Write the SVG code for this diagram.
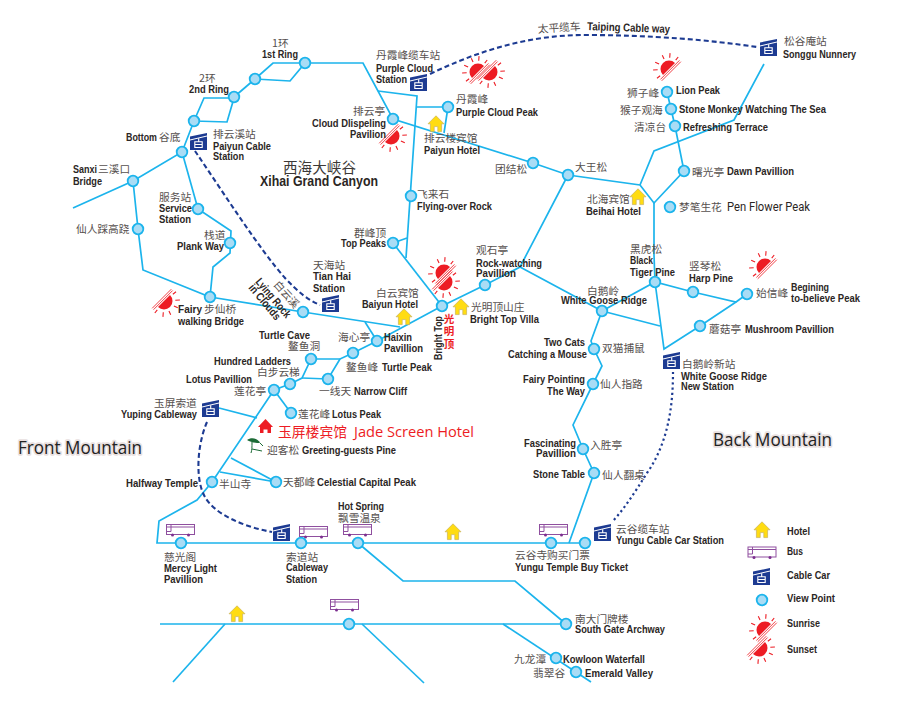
<svg xmlns="http://www.w3.org/2000/svg" width="900" height="705" viewBox="0 0 900 705">
<style>
text{font-family:"Liberation Sans",Arial,"Noto Sans CJK SC",sans-serif;white-space:pre}
.e{font-weight:700;font-size:11.3px;fill:#2b2624}
.c{font-family:"Noto Sans CJK SC",sans-serif;font-size:10.7px;fill:#56504e}
.v{fill:#a9dcf5;stroke:#1cb4ec;stroke-width:1.8}
.l{fill:none;stroke:#1cb4ec;stroke-width:1.7;stroke-linejoin:miter}
.d{fill:none;stroke:#1d3b92;stroke-width:2.1;stroke-dasharray:5 3}
.o{fill:none;stroke:#1d3b92;stroke-width:2.2;stroke-dasharray:2.2 3}
.m{font-family:"Open Sans",sans-serif;font-size:18.5px;fill:#222;stroke:#e8e0e0;stroke-width:3.5px;paint-order:stroke;stroke-linejoin:round}
</style>
<defs>
<symbol id="cable" viewBox="0 0 17 17" width="17" height="17" overflow="visible">
<path d="M0 3.5 17 0V17H0Z" fill="#1d3b92"/>
<path d="M0 7 17 3" stroke="#fff" stroke-width="1" fill="none"/>
<path d="M8.7 5.2V8.5M4.8 8.8H12.2V14.5H4.8ZM4.8 11.5H12.2" stroke="#fff" stroke-width="1.1" fill="none"/>
</symbol>
<g id="house">
<path d="M0 -8.2 8 -0.2 5.6 -0.2 5.6 7.6 1.8 7.6 1.8 2.6 -1.8 2.6 -1.8 7.6 -5.6 7.6 -5.6 -0.2 -8 -0.2Z" fill="#ffdc12" stroke="#c9b25a" stroke-width="0.7"/>
</g>
<g id="bus" fill="none" stroke="#8f4f9f" stroke-width="1">
<rect x="0.5" y="0.5" width="28" height="10"/>
<path d="M0.5 3H28.5M5 0.5V7.5H0.5"/>
<circle cx="6.5" cy="11" r="1.5" fill="#7c2f8f" stroke="none"/>
<circle cx="22.5" cy="11" r="1.5" fill="#7c2f8f" stroke="none"/>
</g>
<g id="sun">
<path d="M-8.5 0A8.5 8.5 0 0 1 8.5 0Z" fill="#ed1c24"/>
<path d="M-13.5 1.3H13.5M-13.5 3.2H13.5" stroke="#ed1c24" stroke-width="0.8" fill="none"/>
<path d="M-11 -1.5-15 -2M-8.5 -7.5-12 -10.5M-3.5 -10.5-5 -14.5M3.5 -10.5 5 -14.5M8.5 -7.5 12 -10.5M11 -1.5 15 -2" stroke="#ed1c24" stroke-width="1.1" fill="none"/>
</g>
</defs>

<g id="connectors">
<path class="l" d="M73 208 133 181 182 152 194 121"/>
<path class="l" d="M234 97 255 79"/>
<path class="l" d="M194 121 204 98H234L227 122 194 121"/>
<path class="l" d="M255 79 273 63H305L290 81 255 79"/>
<path class="l" d="M305 63H363L393 119 533 163 568 175 640 185 654 203 684 171 675 126 671 109 667 92"/>
<path class="l" d="M378 91 417 96 406 258"/>
<path class="l" d="M417 107H448L444 133"/>
<path class="l" d="M393 243 442 306"/>
<path class="l" d="M393 243 407 238"/>
<path class="l" d="M182 152 198 209 231 231 230 253 213 267 210 297 143 270 138 229 133 181"/>
<path class="l" d="M210 297 303 312 400 327"/>
<path class="l" d="M365 322 377 341"/>
<path class="l" d="M640 185 654 151 734 120 764 64"/>
<path class="l" d="M654 203V255L655 282"/>
<path class="l" d="M568 175 520 267 485 285 442 306 377 341 353 353 340 359H311L302 378 290 384 274 390 212 482 197 500 159 521 157 543H585"/>
<path class="l" d="M302 378 328 379 340 359"/>
<path class="l" d="M520 267 602 311 655 282 693 292 736 302 747 294"/>
<path class="l" d="M602 311 660 326"/>
<path class="l" d="M655 282 664 349 700 326 736 302"/>
<path class="l" d="M602 311 591 341 594 349 602 366 593 384 573 425 583 449 594 473 569 543"/>
<path class="l" d="M274 390 291 413"/>
<path class="l" d="M219 408 257 418"/>
<path class="l" d="M231 458 276 482 220 472"/>
<path class="l" d="M358 543 403 581H515L566 624H160"/>
<path class="l" d="M225 624 173 682"/>
<path class="l" d="M362 624 424 683"/>
<path class="l" d="M503 624 591 682"/>
<path class="d" d="M430 74C480 50 530 35 585 35C650 35 710 40 757 47"/>
<path class="d" d="M195 151C225 195 260 250 285 278C298 292 308 300 320 305"/>
<path class="d" d="M207 422C197 445 195 480 205 497C215 515 245 527 272 532"/>
<path class="o" d="M673 372C673 400 670 440 647 473C635 492 625 508 612 522"/>
</g>

<g id="sun-marks">
<use href="#sun" transform="translate(391 136) rotate(135)"/>
<use href="#sun" transform="translate(478 72) rotate(-45)"/>
<use href="#sun" transform="translate(489 72) rotate(135)"/>
<use href="#sun" transform="translate(669 69) rotate(-45)"/>
<use href="#sun" transform="translate(765 267) rotate(-45)"/>
<use href="#sun" transform="translate(444 273) rotate(-45)"/>
<use href="#sun" transform="translate(444 282) rotate(135)"/>
<use href="#sun" transform="translate(164 301) rotate(135)"/>
</g>

<g id="hotels">
<use href="#house" x="436" y="124"/>
<use href="#house" x="404" y="317"/>
<use href="#house" x="461" y="307"/>
<use href="#house" x="638" y="197"/>
<use href="#house" x="453" y="532"/>
<use href="#house" x="237" y="614"/>
</g>

<g id="buses">
<use href="#bus" x="166" y="524"/>
<use href="#bus" x="299" y="526"/>
<use href="#bus" x="343" y="524"/>
<use href="#bus" x="330" y="599"/>
<use href="#bus" x="539" y="524"/>
</g>

<g id="ring-1"><circle class="v" cx="305" cy="63" r="5.3"/><text class="c" x="272" y="47">1环</text><text class="e" x="262" y="58" textLength="36" lengthAdjust="spacingAndGlyphs">1st Ring</text></g>
<g id="ring-1b"><circle class="v" cx="255" cy="79" r="5.3"/></g>
<g id="ring-2"><circle class="v" cx="234" cy="97" r="5.3"/><text class="c" x="199" y="82">2环</text><text class="e" x="189" y="93" textLength="40" lengthAdjust="spacingAndGlyphs">2nd Ring</text></g>
<g id="ring-2b"><circle class="v" cx="194" cy="121" r="5.3"/></g>
<g id="bottom"><circle class="v" cx="182" cy="152" r="5.3"/><text class="e" x="126" y="141" textLength="31" lengthAdjust="spacingAndGlyphs">Bottom</text><text class="c" x="159" y="141">谷底</text></g>
<g id="sanxi"><circle class="v" cx="133" cy="181" r="5.3"/><text class="e" x="73" y="173" textLength="24" lengthAdjust="spacingAndGlyphs">Sanxi</text><text class="c" x="98" y="173">三溪口</text><text class="e" x="73" y="185" textLength="29" lengthAdjust="spacingAndGlyphs">Bridge</text></g>
<g id="xianren"><circle class="v" cx="138" cy="229" r="5.3"/><text class="c" x="76" y="233">仙人踩高跷</text></g>
<g id="service"><circle class="v" cx="198" cy="209" r="5.3"/><text class="c" x="159" y="201">服务站</text><text class="e" x="159" y="212" textLength="33" lengthAdjust="spacingAndGlyphs">Service</text><text class="e" x="159" y="223" textLength="32" lengthAdjust="spacingAndGlyphs">Station</text></g>
<g id="plank"><circle class="v" cx="230" cy="243" r="5.3"/><text class="c" x="204" y="239">栈道</text><text class="e" x="177" y="250" textLength="47" lengthAdjust="spacingAndGlyphs">Plank Way</text></g>
<g id="fairy"><circle class="v" cx="210" cy="297" r="5.3"/><text class="e" x="178" y="313" textLength="24" lengthAdjust="spacingAndGlyphs">Fairy</text><text class="c" x="204" y="313">步仙桥</text><text class="e" x="178" y="325" textLength="66" lengthAdjust="spacingAndGlyphs">walking Bridge</text></g>
<g id="lying-rock"><circle class="v" cx="303" cy="312" r="5.3"/><text class="c" transform="translate(273 285) rotate(48)">白云溪</text><text class="e" transform="translate(255 282) rotate(50)" textLength="48" lengthAdjust="spacingAndGlyphs">Lying Rock</text><text class="e" transform="translate(248 288) rotate(50)" textLength="43" lengthAdjust="spacingAndGlyphs">in Clouds</text></g>
<g id="cloud-dispel"><circle class="v" cx="393" cy="119" r="5.3"/><text class="c" x="353" y="115">排云亭</text><text class="e" x="312" y="127" textLength="74" lengthAdjust="spacingAndGlyphs">Cloud Dlispeling</text><text class="e" x="350" y="138" textLength="36" lengthAdjust="spacingAndGlyphs">Pavilion</text></g>
<g id="purple-peak"><circle class="v" cx="448" cy="107" r="5.3"/><text class="c" x="456" y="103">丹霞峰</text><text class="e" x="456" y="116" textLength="82" lengthAdjust="spacingAndGlyphs">Purple Cloud Peak</text></g>
<g id="paiyun-hotel"><text class="c" x="424" y="142">排云楼宾馆</text><text class="e" x="424" y="154" textLength="56" lengthAdjust="spacingAndGlyphs">Paiyun Hotel</text></g>
<g id="canyon"><text class="c" x="283" y="173" style="font-size:14.6px;fill:#3c3836">西海大峡谷</text><text class="e" x="260" y="186" style="font-size:14.5px" textLength="118" lengthAdjust="spacingAndGlyphs">Xihai Grand Canyon</text></g>
<g id="flying"><circle class="v" cx="411" cy="196" r="5.3"/><text class="c" x="417" y="198">飞来石</text><text class="e" x="417" y="210" textLength="75" lengthAdjust="spacingAndGlyphs">Flying-over Rock</text></g>
<g id="top-peaks"><circle class="v" cx="393" cy="243" r="5.3"/><text class="c" x="354" y="237">群峰顶</text><text class="e" x="341" y="247" textLength="45" lengthAdjust="spacingAndGlyphs">Top Peaks</text></g>
<g id="baiyun-hotel"><text class="c" x="376" y="297">白云宾馆</text><text class="e" x="362" y="308" textLength="56" lengthAdjust="spacingAndGlyphs">Baiyun Hotel</text></g>
<g id="bright-top"><circle class="v" cx="442" cy="306" r="5.3"/><text class="e" transform="translate(442 360) rotate(-90)" textLength="44" lengthAdjust="spacingAndGlyphs">Bright Top</text><text style="font-family:'Noto Sans CJK SC',sans-serif;font-size:10.5px;font-weight:700;fill:#ed1c24" text-anchor="middle"><tspan x="449" y="323">光</tspan><tspan x="449" y="335">明</tspan><tspan x="449" y="348">顶</tspan></text></g>
<g id="rock-watching"><circle class="v" cx="485" cy="285" r="5.3"/><text class="c" x="476" y="254">观石亭</text><text class="e" x="476" y="267" textLength="66" lengthAdjust="spacingAndGlyphs">Rock-watching</text><text class="e" x="476" y="277" textLength="40" lengthAdjust="spacingAndGlyphs">Pavillion</text></g>
<g id="villa"><text class="c" x="471" y="311">光明顶山庄</text><text class="e" x="470" y="323" textLength="69" lengthAdjust="spacingAndGlyphs">Bright Top Villa</text></g>
<g id="tuanjie"><circle class="v" cx="533" cy="163" r="5.3"/><text class="c" x="495" y="173">团结松</text></g>
<g id="dawang"><circle class="v" cx="568" cy="175" r="5.3"/><text class="c" x="575" y="171">大王松</text></g>
<g id="beihai"><text class="c" x="587" y="203">北海宾馆</text><text class="e" x="586" y="215" textLength="55" lengthAdjust="spacingAndGlyphs">Beihai Hotel</text></g>
<g id="lion"><circle class="v" cx="667" cy="92" r="5.3"/><text class="c" x="627" y="97">狮子峰</text><text class="e" x="676" y="94" textLength="44" lengthAdjust="spacingAndGlyphs">Lion Peak</text></g>
<g id="monkey"><circle class="v" cx="671" cy="109" r="5.3"/><text class="c" x="620" y="114">猴子观海</text><text class="e" x="679" y="113" textLength="147" lengthAdjust="spacingAndGlyphs">Stone Monkey Watching The Sea</text></g>
<g id="refreshing"><circle class="v" cx="675" cy="126" r="5.3"/><text class="c" x="634" y="131">清凉台</text><text class="e" x="683" y="131" textLength="85" lengthAdjust="spacingAndGlyphs">Refreshing Terrace</text></g>
<g id="dawn"><circle class="v" cx="684" cy="171" r="5.3"/><text class="c" x="692" y="176">曙光亭</text><text class="e" x="727" y="175" textLength="67" lengthAdjust="spacingAndGlyphs">Dawn Pavillion</text></g>
<g id="pen-flower"><circle class="v" cx="670" cy="207" r="5.3"/><text class="c" x="679" y="211">梦笔生花</text><text x="727" y="211" style="font-family:'Roboto',sans-serif;font-size:12px;fill:#2b2624" textLength="83" lengthAdjust="spacingAndGlyphs">Pen Flower Peak</text></g>
<g id="black-tiger"><circle class="v" cx="655" cy="282" r="5.3"/><text class="c" x="630" y="253">黑虎松</text><text class="e" x="630" y="264" textLength="23" lengthAdjust="spacingAndGlyphs">Black</text><text class="e" x="630" y="276" textLength="45" lengthAdjust="spacingAndGlyphs">Tiger Pine</text></g>
<g id="harp"><circle class="v" cx="693" cy="292" r="5.3"/><text class="c" x="689" y="270">竖琴松</text><text class="e" x="689" y="282" textLength="44" lengthAdjust="spacingAndGlyphs">Harp Pine</text></g>
<g id="begin"><circle class="v" cx="747" cy="294" r="5.3"/><text class="c" x="756" y="297">始信峰</text><text class="e" x="791" y="291" textLength="38" lengthAdjust="spacingAndGlyphs">Begining</text><text class="e" x="791" y="302" textLength="69" lengthAdjust="spacingAndGlyphs">to-believe Peak</text></g>
<g id="mushroom"><circle class="v" cx="700" cy="326" r="5.3"/><text class="c" x="709" y="333">蘑菇亭</text><text class="e" x="745" y="333" textLength="89" lengthAdjust="spacingAndGlyphs">Mushroom Pavillion</text></g>
<g id="white-goose"><circle class="v" cx="602" cy="311" r="5.3"/><text class="c" x="587" y="295">白鹅岭</text><text class="e" x="561" y="304" textLength="86" lengthAdjust="spacingAndGlyphs">White Goose Ridge</text></g>
<g id="two-cats"><circle class="v" cx="594" cy="349" r="5.3"/><text class="e" x="544" y="346" textLength="41" lengthAdjust="spacingAndGlyphs">Two Cats</text><text class="e" x="508" y="358" textLength="79" lengthAdjust="spacingAndGlyphs">Catching a Mouse</text><text class="c" x="602" y="352">双猫捕鼠</text></g>
<g id="fairy-pointing"><circle class="v" cx="593" cy="384" r="5.3"/><text class="e" x="523" y="383" textLength="62" lengthAdjust="spacingAndGlyphs">Fairy Pointing</text><text class="e" x="547" y="395" textLength="38" lengthAdjust="spacingAndGlyphs">The Way</text><text class="c" x="600" y="388">仙人指路</text></g>
<g id="fascinating"><circle class="v" cx="583" cy="449" r="5.3"/><text class="e" x="524" y="447" textLength="52" lengthAdjust="spacingAndGlyphs">Fascinating</text><text class="e" x="536" y="457" textLength="40" lengthAdjust="spacingAndGlyphs">Pavillion</text><text class="c" x="590" y="449">入胜亭</text></g>
<g id="stone-table"><circle class="v" cx="594" cy="473" r="5.3"/><text class="e" x="533" y="478" textLength="52" lengthAdjust="spacingAndGlyphs">Stone Table</text><text class="c" x="602" y="479">仙人翻桌</text></g>
<g id="haixin"><circle class="v" cx="377" cy="341" r="5.3"/><text class="c" x="338" y="341">海心亭</text><text class="e" x="384" y="341" textLength="28" lengthAdjust="spacingAndGlyphs">Haixin</text><text class="e" x="384" y="352" textLength="39" lengthAdjust="spacingAndGlyphs">Pavillion</text></g>
<g id="turtle-peak"><circle class="v" cx="353" cy="353" r="5.3"/><text class="c" x="346" y="371">鳌鱼峰</text><text class="e" x="382" y="371" textLength="50" lengthAdjust="spacingAndGlyphs">Turtle Peak</text></g>
<g id="turtle-cave"><circle class="v" cx="311" cy="359" r="5.3"/><text class="e" x="259" y="339" textLength="51" lengthAdjust="spacingAndGlyphs">Turtle Cave</text><text class="c" x="288" y="350">鳌鱼洞</text></g>
<g id="hundred"><circle class="v" cx="290" cy="384" r="5.3"/><text class="e" x="214" y="365" textLength="77" lengthAdjust="spacingAndGlyphs">Hundred Ladders</text><text class="c" x="257" y="376">白步云梯</text></g>
<g id="narrow"><circle class="v" cx="328" cy="379" r="5.3"/><text class="c" x="319" y="395">一线天</text><text class="e" x="354" y="395" textLength="53" lengthAdjust="spacingAndGlyphs">Narrow Cliff</text></g>
<g id="lotus-pav"><circle class="v" cx="274" cy="390" r="5.3"/><text class="e" x="186" y="383" textLength="66" lengthAdjust="spacingAndGlyphs">Lotus Pavillion</text><text class="c" x="234" y="395">莲花亭</text></g>
<g id="lotus-peak"><circle class="v" cx="291" cy="413" r="5.3"/><text class="c" x="298" y="418">莲花峰</text><text class="e" x="332" y="418" textLength="49" lengthAdjust="spacingAndGlyphs">Lotus Peak</text></g>
<g id="jade-screen"><path d="M265.5 419 273 427H271V433H267.5V429.5H263.5V433H260V427H258Z" fill="#ed1c24"/><text x="278" y="437" style="font-family:'Noto Sans CJK SC',sans-serif;font-size:13.8px;fill:#ed1c24">玉屏楼宾馆</text><text x="354" y="437" style="font-family:'Open Sans',sans-serif;font-size:14.5px;fill:#ed1c24" textLength="120" lengthAdjust="spacingAndGlyphs">Jade Screen Hotel</text></g>
<g id="pine"><path d="M247 440C251 437 258 438 260 443C255 443 250 442 247 440Z" fill="#1c6b36"/><path d="M252 442C252 447 252 450 251 453M252 449 262 451M260 443 263 446" fill="none" stroke="#1c6b36" stroke-width="1"/><text class="c" x="267" y="454">迎客松</text><text class="e" x="302" y="454" textLength="94" lengthAdjust="spacingAndGlyphs">Greeting-guests Pine</text></g>
<g id="celestial"><circle class="v" cx="276" cy="482" r="5.3"/><text class="c" x="283" y="486">天都峰</text><text class="e" x="317" y="486" textLength="99" lengthAdjust="spacingAndGlyphs">Celestial Capital Peak</text></g>
<g id="halfway"><circle class="v" cx="212" cy="482" r="5.3"/><text class="e" x="126" y="487" textLength="72" lengthAdjust="spacingAndGlyphs">Halfway Temple</text><text class="c" x="219" y="488">半山寺</text></g>
<g id="mercy"><circle class="v" cx="181" cy="543" r="5.3"/><text class="c" x="164" y="561">慈光阁</text><text class="e" x="164" y="572" textLength="53" lengthAdjust="spacingAndGlyphs">Mercy Light</text><text class="e" x="164" y="583" textLength="39" lengthAdjust="spacingAndGlyphs">Pavillion</text></g>
<g id="cableway"><circle class="v" cx="301" cy="543" r="5.3"/><text class="c" x="286" y="561">索道站</text><text class="e" x="286" y="571" textLength="42" lengthAdjust="spacingAndGlyphs">Cableway</text><text class="e" x="286" y="583" textLength="31" lengthAdjust="spacingAndGlyphs">Station</text></g>
<g id="hot-spring"><circle class="v" cx="358" cy="543" r="5.3"/><text class="e" x="338" y="510" textLength="46" lengthAdjust="spacingAndGlyphs">Hot Spring</text><text class="c" x="338" y="522">飘雪温泉</text></g>
<g id="yungu-temple"><circle class="v" cx="551" cy="543" r="5.3"/><text class="c" x="515" y="559">云谷寺购买门票</text><text class="e" x="515" y="571" textLength="113" lengthAdjust="spacingAndGlyphs">Yungu Temple Buy Ticket</text></g>
<g id="yungu-stop"><circle class="v" cx="585" cy="543" r="5.3"/></g>
<g id="south-road"><circle class="v" cx="349" cy="624" r="5.3"/></g>
<g id="south-gate"><circle class="v" cx="566" cy="624" r="5.3"/><text class="c" x="575" y="623">南大门牌楼</text><text class="e" x="575" y="633" textLength="90" lengthAdjust="spacingAndGlyphs">South Gate Archway</text></g>
<g id="kowloon"><circle class="v" cx="556" cy="658" r="5.3"/><text class="c" x="514" y="663">九龙潭</text><text class="e" x="563" y="663" textLength="82" lengthAdjust="spacingAndGlyphs">Kowloon Waterfall</text></g>
<g id="emerald"><circle class="v" cx="576" cy="672" r="5.3"/><text class="c" x="533" y="677">翡翠谷</text><text class="e" x="585" y="677" textLength="68" lengthAdjust="spacingAndGlyphs">Emerald Valley</text></g>

<g id="st-purple"><use href="#cable" x="410" y="74"/><text class="c" x="376" y="59">丹霞峰缆车站</text><text class="e" x="376" y="72" textLength="57" lengthAdjust="spacingAndGlyphs">Purple Cloud</text><text class="e" x="376" y="83" textLength="31" lengthAdjust="spacingAndGlyphs">Station</text></g>
<g id="st-songgu"><use href="#cable" x="760" y="39"/><text class="c" x="784" y="45">松谷庵站</text><text class="e" x="783" y="58" textLength="73" lengthAdjust="spacingAndGlyphs">Songgu Nunnery</text></g>
<g id="st-paiyun"><use href="#cable" x="190" y="133"/><text class="c" x="213" y="138">排云溪站</text><text class="e" x="213" y="150" textLength="58" lengthAdjust="spacingAndGlyphs">Paiyun Cable</text><text class="e" x="213" y="160" textLength="31" lengthAdjust="spacingAndGlyphs">Station</text></g>
<g id="st-tianhai"><use href="#cable" x="322" y="295"/><text class="c" x="313" y="269">天海站</text><text class="e" x="313" y="280" textLength="38" lengthAdjust="spacingAndGlyphs">Tian Hai</text><text class="e" x="313" y="292" textLength="32" lengthAdjust="spacingAndGlyphs">Station</text></g>
<g id="st-yuping"><use href="#cable" x="202" y="400"/><text class="c" x="154" y="407">玉屏索道</text><text class="e" x="121" y="418" textLength="76" lengthAdjust="spacingAndGlyphs">Yuping Cableway</text></g>
<g id="st-cableway"><use href="#cable" x="273" y="524"/></g>
<g id="st-whitegoose"><use href="#cable" x="663" y="352"/><text class="c" x="682" y="368">白鹅岭新站</text><text class="e" x="681" y="380" textLength="86" lengthAdjust="spacingAndGlyphs">White Goose Ridge</text><text class="e" x="681" y="390" textLength="53" lengthAdjust="spacingAndGlyphs">New Station</text></g>
<g id="st-yungu"><use href="#cable" x="594" y="524"/><text class="c" x="616" y="533">云谷缆车站</text><text class="e" x="616" y="544" textLength="108" lengthAdjust="spacingAndGlyphs">Yungu Cable Car Station</text></g>

<g id="taiping-label"><text class="c" transform="translate(538 33) rotate(-4)">太平缆车</text><text class="e" transform="translate(587 30) rotate(2)" textLength="83" lengthAdjust="spacingAndGlyphs">Taiping Cable way</text></g>
<text class="m" x="18" y="454" textLength="124" lengthAdjust="spacingAndGlyphs">Front Mountain</text>
<text class="m" x="713" y="446" textLength="119" lengthAdjust="spacingAndGlyphs">Back Mountain</text>

<g id="legend">
<use href="#house" x="762" y="530"/><text class="e" x="787" y="535" textLength="23" lengthAdjust="spacingAndGlyphs">Hotel</text>
<use href="#bus" x="747.5" y="546.5"/><text class="e" x="787" y="555" textLength="16" lengthAdjust="spacingAndGlyphs">Bus</text>
<use href="#cable" x="753" y="568"/><text class="e" x="787" y="579" textLength="43" lengthAdjust="spacingAndGlyphs">Cable Car</text>
<circle class="v" cx="762" cy="600" r="5.3"/><text class="e" x="787" y="602" textLength="48" lengthAdjust="spacingAndGlyphs">View Point</text>
<use href="#sun" transform="translate(765 630) rotate(-45)"/><text class="e" x="787" y="627" textLength="33" lengthAdjust="spacingAndGlyphs">Sunrise</text>
<use href="#sun" transform="translate(759 648) rotate(135)"/><text class="e" x="787" y="653" textLength="30" lengthAdjust="spacingAndGlyphs">Sunset</text>
</g>
</svg>
